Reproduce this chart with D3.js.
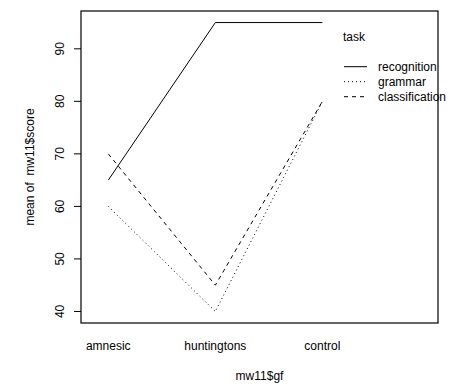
<!DOCTYPE html>
<html>
<head>
<meta charset="utf-8">
<script src="https://cdn.jsdelivr.net/npm/d3@7"></script>
<style>
  body { margin: 0; background: #fff; }
  text { font-family: "Liberation Sans", Arial, Helvetica, sans-serif; font-size: 12px; fill: #000; }
</style>
</head>
<body>
<div id="chart"></div>
<script>
var groups = ['amnesic', 'huntingtons', 'control'];
var tasks = ['recognition', 'grammar', 'classification'];
var recognition = [65, 95, 95];
var grammar = [60, 40, 80];
var classification = [70, 45, 80];
var yTicks = [40, 50, 60, 70, 80, 90];

var series = [
  { name: tasks[0], values: recognition, dash: null },
  { name: tasks[1], values: grammar, dash: '1,3' },
  { name: tasks[2], values: classification, dash: '4,4' }
];

var svgWidth = 466;
var svgHeight = 384;
// plot box edges (note: "top" is a reserved window global)
var boxLeft = 81, boxRight = 438, boxTop = 11, boxBottom = 323;

var svg = d3.select('#chart')
  .append('svg')
  .attr('width', svgWidth)
  .attr('height', svgHeight);

// R style xlim includes space for the legend
var x = d3.scaleLinear().domain([0.745, 4.08]).range([boxLeft, boxRight]);
var y = d3.scaleLinear().domain([37.8, 97.2]).range([boxBottom, boxTop]);

var line = d3.line()
  .x(function(d, i) { return x(i + 1); })
  .y(function(d) { return y(d); });

svg.selectAll('path.series')
  .data(series)
  .enter()
  .append('path')
  .attr('class', 'series')
  .attr('d', function(d) { return line(d.values); })
  .attr('fill', 'none')
  .attr('stroke', '#000')
  .attr('stroke-width', 1)
  .attr('stroke-dasharray', function(d) { return d.dash; });

// y axis
var yAxis = svg.append('g');
yAxis.selectAll('line')
  .data(yTicks)
  .enter()
  .append('line')
  .attr('x1', boxLeft - 7)
  .attr('x2', boxLeft)
  .attr('y1', function(d) { return y(d); })
  .attr('y2', function(d) { return y(d); })
  .attr('stroke', '#000');

yAxis.selectAll('text')
  .data(yTicks)
  .enter()
  .append('text')
  .attr('text-anchor', 'middle')
  .attr('transform', function(d) { return 'translate(63.5,' + y(d) + ') rotate(-90)'; })
  .text(function(d) { return d; });

// x labels (no ticks)
svg.selectAll('text.xlab')
  .data(groups)
  .enter()
  .append('text')
  .attr('class', 'xlab')
  .attr('x', function(d, i) { return x(i + 1); })
  .attr('y', 350)
  .attr('text-anchor', 'middle')
  .text(function(d) { return d; });

svg.append('text')
  .attr('x', (boxLeft + boxRight) / 2)
  .attr('y', 380)
  .attr('text-anchor', 'middle')
  .text('mw11$gf');

svg.append('text')
  .attr('text-anchor', 'middle')
  .attr('transform', 'translate(33.5,' + ((boxTop + boxBottom) / 2) + ') rotate(-90)')
  .style('white-space', 'pre')
  .text('mean of  mw11$score');

// legend
svg.append('text')
  .attr('x', 343)
  .attr('y', 41)
  .text('task');

var legend = svg.selectAll('.legend')
  .data(series)
  .enter()
  .append('g')
  .attr('class', 'legend')
  .attr('transform', function(d, i) { return 'translate(344,' + (66.7 + i * 15) + ')'; });

legend.append('line')
  .attr('x1', 0)
  .attr('x2', 23)
  .attr('stroke', '#000')
  .attr('stroke-dasharray', function(d) { return d.dash; });

legend.append('text')
  .attr('x', 34)
  .attr('y', 4.3)
  .text(function(d) { return d.name; });

// plot box
svg.append('rect')
  .attr('x', boxLeft)
  .attr('y', boxTop)
  .attr('width', boxRight - boxLeft)
  .attr('height', boxBottom - boxTop)
  .attr('fill', 'none')
  .attr('stroke', '#000')
  .attr('stroke-width', 1.2);
</script>
</body>
</html>
